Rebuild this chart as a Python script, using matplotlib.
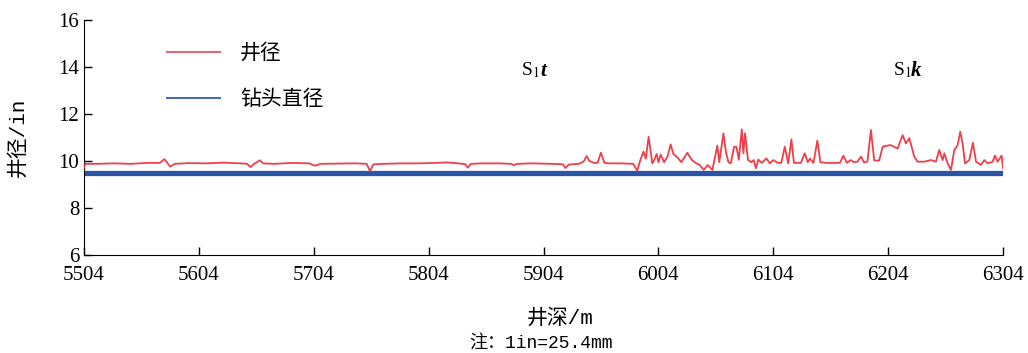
import matplotlib.pyplot as plt
from matplotlib.lines import Line2D

depth = [5504, 5505, 5515, 5530, 5545, 5560, 5570, 5574, 5576, 5579,
         5583, 5595, 5610, 5625, 5640, 5646, 5649, 5652, 5657, 5660,
         5670, 5685, 5700, 5705, 5710, 5725, 5740, 5750, 5753, 5756,
         5765, 5780, 5795, 5810, 5820, 5830, 5836, 5838, 5841, 5850,
         5865, 5876, 5878, 5881, 5895, 5910, 5921, 5923, 5926, 5935,
         5939, 5941.5, 5944, 5948, 5951, 5954, 5957, 5962, 5972, 5982,
         5985.6, 5988, 5991, 5993, 5995.5, 5998.7, 6000, 6002.5, 6004, 6006,
         6009, 6012, 6014.7, 6017, 6020, 6024, 6029.2, 6033, 6037, 6040,
         6043.4, 6047, 6051, 6055.3, 6057, 6058, 6060.6, 6063, 6065, 6067,
         6069.9, 6072, 6074, 6076.6, 6078, 6079.4, 6082, 6085, 6087, 6088.8,
         6091, 6094, 6098, 6101, 6104, 6108, 6111, 6114, 6117, 6119.8,
         6122, 6128, 6131.4, 6134, 6136, 6139, 6142.4, 6145, 6150, 6158,
         6162, 6165, 6168, 6171.5, 6174, 6177.3, 6180.3, 6183.2, 6186, 6189,
         6191.9, 6196.2, 6199.2, 6206, 6212.2, 6216.6, 6219.5, 6222.4, 6226.7, 6229.6,
         6235.4, 6241.3, 6245.6, 6248.5, 6251.4, 6252.9, 6255.8, 6258.7, 6261.6, 6264.5,
         6266.8, 6268.8, 6270.9, 6274.6, 6277.8, 6280.5, 6284.8, 6287.7, 6290.6, 6295,
         6297, 6299.3, 6302.8, 6304]
caliper = [9.72, 9.88, 9.88, 9.90, 9.88, 9.92, 9.92, 10.08, 9.95, 9.76,
           9.88, 9.91, 9.90, 9.93, 9.90, 9.88, 9.74, 9.88, 10.03, 9.90,
           9.88, 9.92, 9.90, 9.80, 9.88, 9.89, 9.90, 9.88, 9.57, 9.86,
           9.88, 9.90, 9.90, 9.92, 9.94, 9.90, 9.86, 9.72, 9.88, 9.90,
           9.90, 9.88, 9.82, 9.88, 9.90, 9.88, 9.86, 9.70, 9.85, 9.88,
           9.98, 10.21, 10.00, 9.92, 9.92, 10.35, 9.92, 9.90, 9.90, 9.88,
           9.59, 10.00, 10.40, 10.10, 11.03, 9.90, 10.00, 10.30, 9.95, 10.27,
           9.95, 10.20, 10.71, 10.30, 10.18, 9.95, 10.35, 10.05, 9.90, 9.83,
           9.62, 9.83, 9.62, 10.66, 9.95, 10.30, 11.18, 10.33, 9.95, 9.90,
           10.61, 10.60, 10.05, 11.35, 10.33, 11.18, 10.04, 9.95, 10.04, 9.69,
           10.06, 9.92, 10.11, 9.90, 10.04, 9.92, 9.92, 10.61, 9.90, 10.92,
           9.92, 9.92, 10.33, 9.95, 10.10, 9.92, 10.87, 9.95, 9.92, 9.92,
           9.92, 10.23, 9.92, 10.04, 9.95, 9.97, 10.19, 9.93, 9.98, 11.32,
           10.02, 10.02, 10.61, 10.68, 10.53, 11.10, 10.75, 10.97, 10.19, 9.97,
           9.97, 10.04, 9.97, 10.47, 10.04, 10.33, 9.90, 9.62, 10.47, 10.68,
           11.25, 10.75, 9.90, 10.04, 10.78, 9.97, 9.83, 10.04, 9.90, 9.97,
           10.23, 9.97, 10.23, 9.70]

bit_depth = [5504, 6304]
bit_size = [9.5, 9.5]

xticks = [5504, 5604, 5704, 5804, 5904, 6004, 6104, 6204, 6304]
yticks = [6, 8, 10, 12, 14, 16]

serif = ['Liberation Serif', 'Noto Sans CJK SC']
mono = ['Liberation Mono', 'Noto Sans CJK SC']
plt.rcParams['font.family'] = serif
plt.rcParams['mathtext.fontset'] = 'stix'

fig = plt.figure(figsize=(10.28, 3.53), dpi=100)
ax = fig.add_axes([0.0817, 0.2776, 0.894, 0.6657])

red = '#ee2a36'
blue = '#2a55a6'
ax.plot(bit_depth, bit_size, color=blue, lw=3.8, solid_capstyle='butt', zorder=2)
ax.plot(depth, caliper, color=red, lw=1.3, alpha=0.9, zorder=3)

ax.set_xlim(5504, 6304)
ax.set_ylim(6, 16)
ax.set_xticks(xticks)
ax.set_yticks(yticks)
ax.tick_params(direction='in', length=6, width=1, labelsize=15)
ax.tick_params(axis='x', pad=8)
ax.spines['top'].set_visible(False)
ax.spines['right'].set_visible(False)

ax.set_xlabel('井深/m', fontsize=15, family=mono)
ax.xaxis.set_label_coords(0.518, -0.225)
ax.set_ylabel('井径/in', fontsize=15, family=mono)
ax.yaxis.set_label_coords(-0.061, 0.5)

# formation labels
ax.text(5884, 13.85, r'S$_1$', fontsize=14, ha='left', va='center')
ax.text(5901, 13.85, 't', fontsize=15, style='italic', weight='bold',
        ha='left', va='center')
ax.text(6208, 13.85, r'S$_1$', fontsize=14, ha='left', va='center')
ax.text(6224, 13.85, 'k', fontsize=15, style='italic', weight='bold',
        ha='left', va='center')

handles = [Line2D([], [], color='#e06878', lw=1.5),
           Line2D([], [], color='#4a6aae', lw=1.5)]
ax.legend(handles, ['井径', '钻头直径'], loc='upper left',
          bbox_to_anchor=(0.0697, 0.975), frameon=False, fontsize=15,
          handlelength=2.55, handletextpad=0.96, labelspacing=1.25)

fig.text(0.526, 0.014, '注：1in=25.4mm', fontsize=13, ha='center', family=mono)

fig.savefig('out.png', dpi=100)
